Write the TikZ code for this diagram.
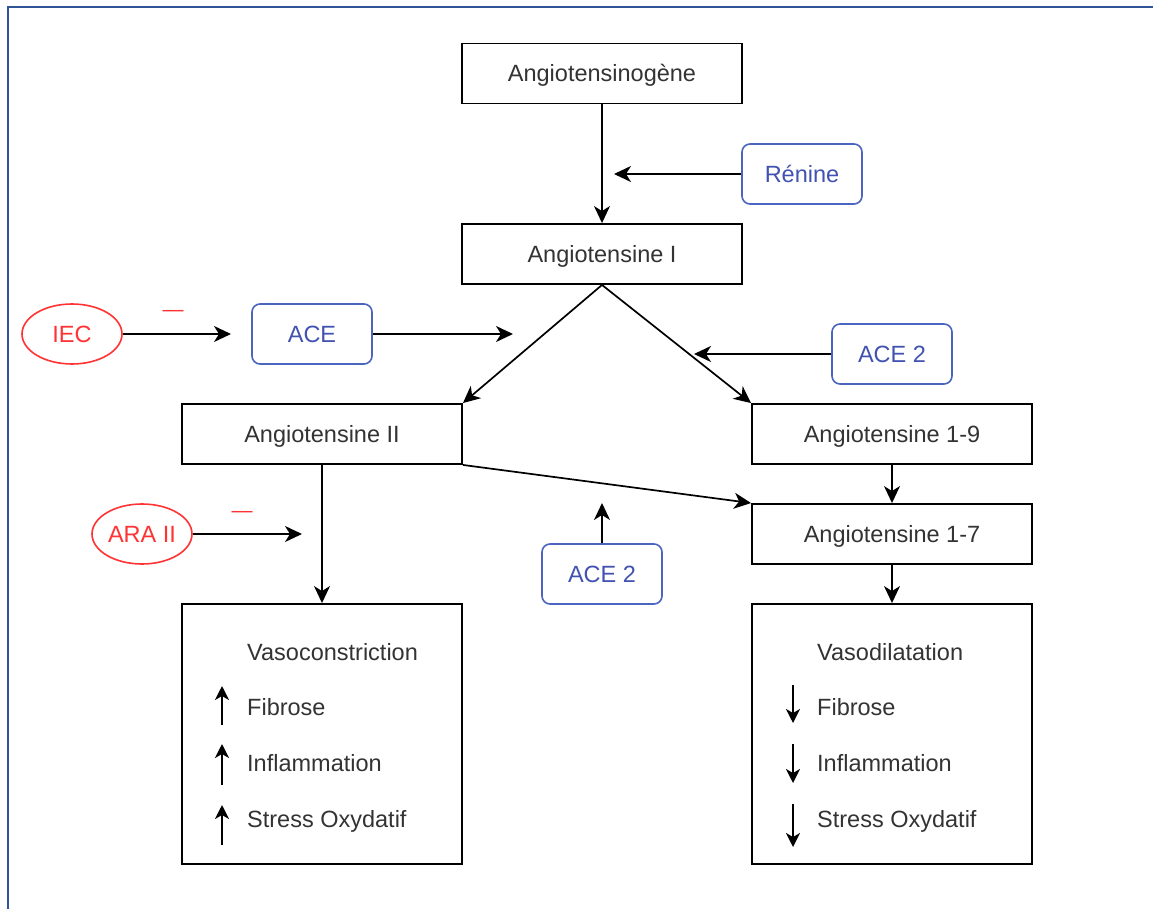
\documentclass[tikz,border=0pt]{standalone}
\usepackage{fontspec}
\setmainfont{Liberation Sans}
\usetikzlibrary{arrows.meta,shapes.geometric}
\definecolor{txt}{HTML}{333333}
\definecolor{bluetxt}{HTML}{4152B0}
\definecolor{blueline}{HTML}{4A64C0}
\definecolor{redc}{HTML}{FF3333}
\definecolor{frame}{HTML}{2F5597}
\tikzset{
  every node/.style={font=\fontsize{23.5}{28}\selectfont, text=txt, inner sep=0pt},
  box/.style={draw=black, line width=1.9pt, minimum width=280pt, minimum height=60pt, text height=16.8pt, text depth=0pt},
  bigbox/.style={draw=black, line width=1.9pt, minimum width=280pt, minimum height=260pt},
  enz/.style={draw=blueline, line width=1.6pt, rounded corners=8pt, minimum width=120pt, minimum height=60pt, text=bluetxt, text height=16.8pt, text depth=0pt},
  inhib/.style={draw=redc, line width=1.6pt, ellipse, minimum width=100pt, minimum height=60pt, text=redc, text height=16.8pt, text depth=0pt},
  conn/.style={line width=1.7pt, -{Stealth[length=17pt,width=16pt,inset=5pt]}},
  small/.style={line width=1.9pt, -{Stealth[length=14pt,width=14pt,inset=4pt]}},
  minus/.style={text=redc, font=\fontsize{21}{24}\selectfont},
  item/.style={anchor=base west}
}
\begin{document}
\begin{tikzpicture}[x=1pt,y=-1pt]
\useasboundingbox (0,0) rectangle (1153,909);
\fill[white] (0,0) rectangle (1153,909);
\draw[frame, line width=2.5pt] (8,912) -- (8,7) -- (1156,7);

% main boxes
\node[box] (ag)  at (602,73.5) {Angiotensinogène};
\node[box] (a1)  at (602,254) {Angiotensine I};
\node[box] (a2)  at (322,434) {Angiotensine II};
\node[box] (a19) at (892,434) {Angiotensine 1-9};
\node[box] (a17) at (892,534) {Angiotensine 1-7};
\node[bigbox] (vc) at (322,734) {};
\node[bigbox] (vd) at (892,734) {};

% enzymes
\node[enz] (ren)  at (802,174) {Rénine};
\node[enz] (ace)  at (312,334) {ACE};
\node[enz] (ace2a) at (892,354) {ACE 2};
\node[enz] (ace2b) at (602,574) {ACE 2};

% inhibitors
\node[inhib] (iec) at (72,334) {IEC};
\node[inhib] (ara) at (142,534) {ARA II};
\node[minus] (m1) at (173,313) {—};
\node[minus] (m2) at (242,514) {—};

% free arrow ends
\coordinate (renT) at (614,174);
\coordinate (aceT) at (513,334);
\coordinate (iecT) at (231,334);
\coordinate (ace2aT) at (694,354);
\coordinate (ace2bT) at (602,503);
\coordinate (araT) at (302,534);

% connectors
\draw[conn] (ag.south) -- (a1.north);
\draw[conn] (ren.west) -- (renT);
\draw[conn] (ace.east) -- (aceT);
\draw[conn] (iec.east) -- (iecT);
\draw[conn] (ace2a.west) -- (ace2aT);
\draw[conn] (ace2b.north) -- (ace2bT);
\draw[conn] (ara.east) -- (araT);
\draw[conn] (a1.south) -- (a2.north east);
\draw[conn] (a1.south) -- (a19.north west);
\draw[conn] (a2.south east) -- (a17.north west);
\draw[conn] (a19.south) -- (a17.north);
\draw[conn] (a2.south) -- (vc.north);
\draw[conn] (a17.south) -- (vd.north);

% left box contents
\node[item] (vct) at (247,660) {Vasoconstriction};
\node[item] (vc1) at (247,715.5) {Fibrose};
\node[item] (vc2) at (247,771.5) {Inflammation};
\node[item] (vc3) at (247,827.5) {Stress Oxydatif};
\coordinate (u1a) at (222,725); \coordinate (u1b) at (222,686);
\coordinate (u2a) at (222,785); \coordinate (u2b) at (222,744);
\coordinate (u3a) at (222,845); \coordinate (u3b) at (222,805);
\draw[small] (u1a) -- (u1b);
\draw[small] (u2a) -- (u2b);
\draw[small] (u3a) -- (u3b);

% right box contents
\node[item] (vdt) at (817,660) {Vasodilatation};
\node[item] (vd1) at (817,715.5) {Fibrose};
\node[item] (vd2) at (817,771.5) {Inflammation};
\node[item] (vd3) at (817,827.5) {Stress Oxydatif};
\coordinate (d1a) at (793,685); \coordinate (d1b) at (793,723);
\coordinate (d2a) at (793,744); \coordinate (d2b) at (793,783);
\coordinate (d3a) at (793,804); \coordinate (d3b) at (793,847);
\draw[small] (d1a) -- (d1b);
\draw[small] (d2a) -- (d2b);
\draw[small] (d3a) -- (d3b);
\end{tikzpicture}
\end{document}
